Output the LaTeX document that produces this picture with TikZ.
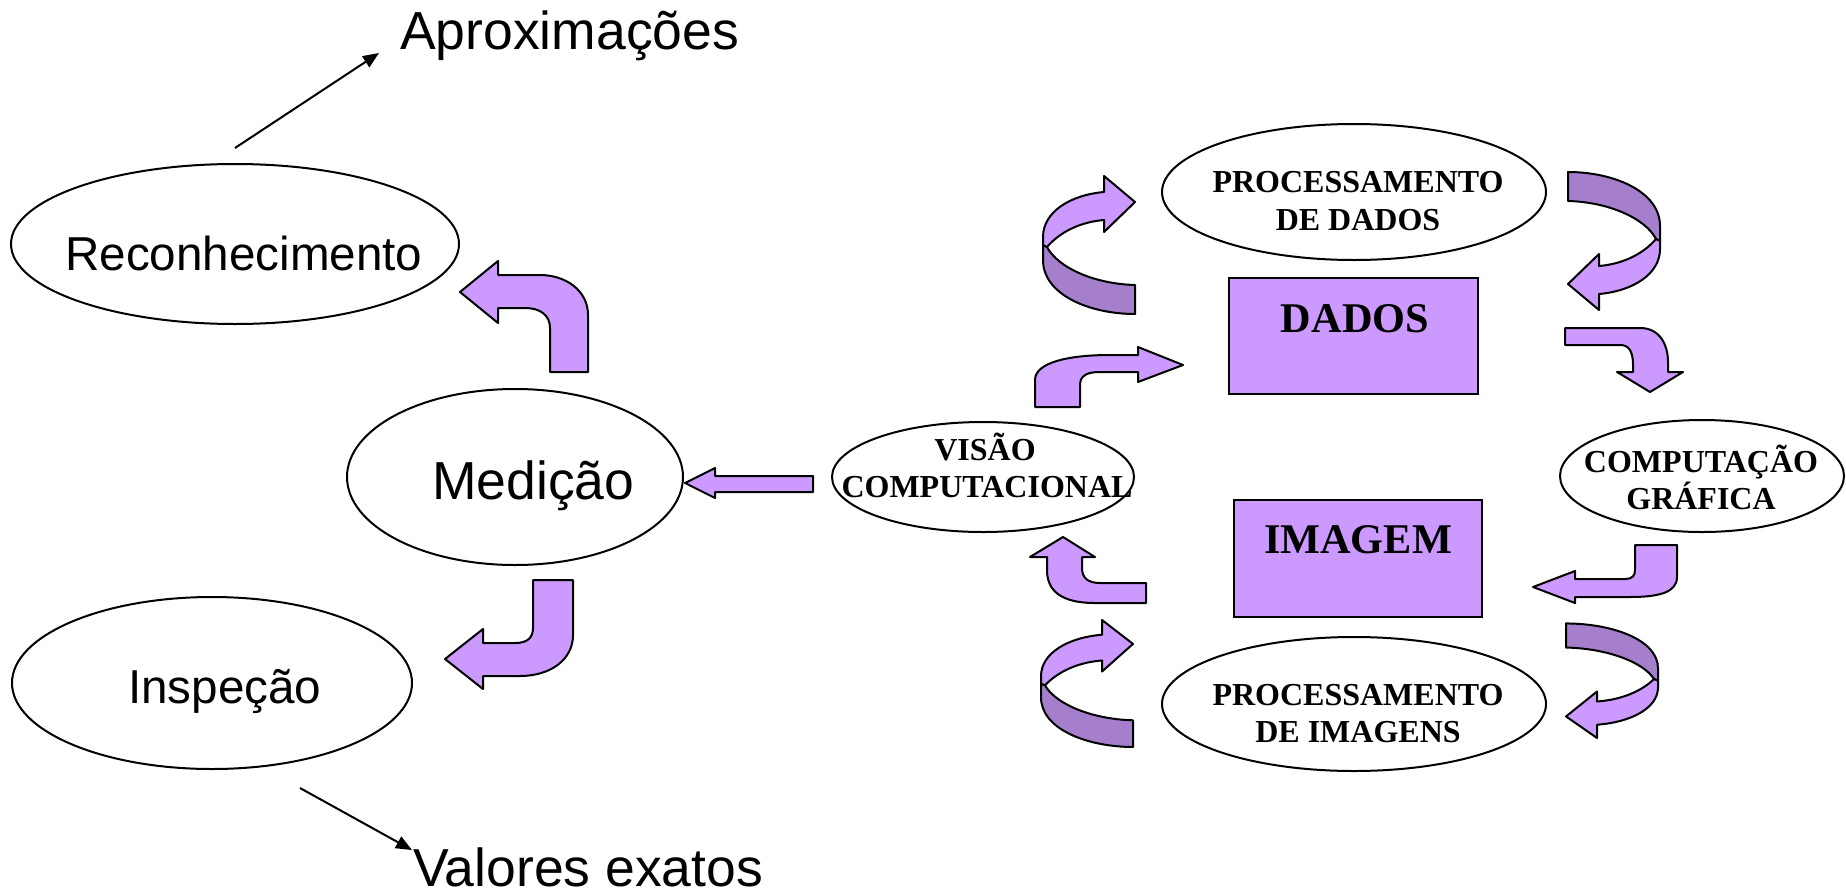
\documentclass[tikz,border=0pt]{standalone}
\usepackage{fontspec}
\setmainfont{Liberation Sans}
\newfontfamily\tnr{Liberation Serif}
\usetikzlibrary{shapes.geometric,arrows.meta}
\definecolor{lp}{RGB}{204,153,255}
\definecolor{dp}{RGB}{166,127,204}
\tikzset{
 fat/.style={draw=black, fill=lp, line width=2pt, line join=round},
 fatdark/.style={draw=black, fill=dp, line width=2pt, line join=round},
 ell/.style={draw, ellipse, line width=2pt, inner sep=0pt, fill=white},
 lbl/.style={font=\fontsize{53.5}{60}\selectfont, anchor=base west, inner sep=0pt},
 lbls/.style={font=\fontsize{47.6}{56}\selectfont, anchor=base west, inner sep=0pt},
 bl/.style={font=\tnr\bfseries\fontsize{32}{37}\selectfont, anchor=base, inner sep=0pt},
 bigl/.style={font=\tnr\bfseries\fontsize{42.3}{50}\selectfont, anchor=base, inner sep=0pt},
 boxn/.style={draw, fill=lp, line width=2pt, inner sep=0pt},
 thinarrow/.style={line width=2pt, -{Triangle[length=16pt,width=13pt]}},
}
\newcommand{\ribbonarrow}[1]{%
 \begin{scope}[#1]
 \draw[fatdark] (0,69) -- (0,84) .. controls (0,119) and (47,138) .. (92,138) -- (92,109) .. controls (52,108) and (15,92) .. (4,71) -- cycle;
 \draw[fat] (61,16) .. controls (27,19) and (0,36) .. (0,61) -- (0,69) -- (4,71) .. controls (17,56) and (37,46) .. (61,44) -- (61,56) -- (92,26) -- (61,0) -- cycle;
 \end{scope}}
\begin{document}
\begin{tikzpicture}[x=1pt,y=-1pt]
\useasboundingbox (0,0) rectangle (1846,889);
% left ellipses
\node[ell, minimum width=448pt, minimum height=160pt] (rec) at (235,244) {};
\node[ell, minimum width=336pt, minimum height=176pt] (med) at (515,477) {};
\node[ell, minimum width=400pt, minimum height=172pt] (insp) at (212,683) {};
\node[lbls] (trec) at (65,270) {Reconhecimento};
\node[lbl] (tmed) at (432,499) {Medição};
\node[lbls] (tinsp) at (128,703) {Inspeção};
\node[lbl] (tapx) at (400,49) {Aproximações};
\node[lbl] (tval) at (413,886) {Valores exatos};
% thin arrows
\coordinate (a1s) at (235,148);
\coordinate (a1e) at (379,53);
\coordinate (a2s) at (300,788);
\coordinate (a2e) at (412,850);
\draw[thinarrow] (a1s) -- (a1e);
\draw[thinarrow] (a2s) -- (a2e);
% fat bent arrows left
\draw[fat] (588,372) -- (588,315) .. controls (588,290) and (565,275) .. (540,275) -- (498,275) -- (498,261) -- (460,292) -- (498,323) -- (498,308) -- (525,308) .. controls (540,308) and (550,315) .. (550,328) -- (550,372) -- cycle;
\draw[fat] (533,580) -- (573,580) -- (573,635) .. controls (573,660) and (550,676) .. (520,676) -- (483,676) -- (483,689) -- (445,659) -- (483,629) -- (483,643) -- (515,643) .. controls (527,643) and (533,638) .. (533,628) -- cycle;
\draw[fat] (813,476) -- (715,476) -- (715,468) -- (685,483) -- (715,498) -- (715,492) -- (813,492) -- cycle;
% right ellipses
\node[ell, minimum width=302pt, minimum height=110pt] (vis) at (983,477) {};
\node[ell, minimum width=384pt, minimum height=136pt] (pd) at (1354,192) {};
\node[ell, minimum width=284pt, minimum height=112pt] (cg) at (1702,476) {};
\node[ell, minimum width=384pt, minimum height=134pt] (pim) at (1354,704) {};
% boxes
\node[boxn, minimum width=249pt, minimum height=116pt] (dados) at (1353.5,336) {};
\node[boxn, minimum width=248pt, minimum height=117pt] (imagem) at (1358,558.5) {};
\node[bigl] (tdados) at (1355,332) {DADOS};
\node[bigl] (timagem) at (1358,553) {IMAGEM};
% right texts
\node[bl] (pd1) at (1358,192) {PROCESSAMENTO};
\node[bl] (pd2) at (1358,230) {DE DADOS};
\node[bl] (vis1) at (985,460) {VISÃO};
\node[bl] (vis2) at (987,497) {COMPUTACIONAL};
\node[bl] (cg1) at (1701,472) {COMPUTAÇÃO};
\node[bl] (cg2) at (1701,509) {GRÁFICA};
\node[bl] (pi1) at (1358,705) {PROCESSAMENTO};
\node[bl] (pi2) at (1358,742) {DE IMAGENS};
% bent arrows right
\draw[fat] (1035,407) -- (1035,380) .. controls (1035,362) and (1070,355) .. (1110,355) -- (1138,355) -- (1138,347) -- (1183,365) -- (1138,382) -- (1138,372) -- (1100,372) .. controls (1088,372) and (1080,375) .. (1080,385) -- (1080,407) -- cycle;
\draw[fat] (1565,328) -- (1640,328) .. controls (1660,328) and (1668,345) .. (1668,362) -- (1668,372) -- (1683,372) -- (1650,392) -- (1617,372) -- (1633,372) -- (1633,365) .. controls (1633,350) and (1628,345) .. (1620,345) -- (1565,345) -- cycle;
\draw[fat] (1635,545) -- (1677,545) -- (1677,577) .. controls (1677,592) and (1660,597) .. (1630,597) -- (1575,597) -- (1575,603) -- (1533,587) -- (1575,571) -- (1575,579) -- (1625,579) .. controls (1632,579) and (1635,576) .. (1635,570) -- cycle;
\draw[fat] (1146,583) -- (1146,603) -- (1095,603) .. controls (1060,603) and (1047,590) .. (1047,570) -- (1047,557) -- (1030,557) -- (1063,537) -- (1095,557) -- (1082,557) -- (1082,568) .. controls (1082,578) and (1088,583) .. (1100,583) -- cycle;
% ribbon arrows
\ribbonarrow{shift={(1043,176)}}
\ribbonarrow{shift={(1660,310)}, xscale=-1, yscale=-1}
\ribbonarrow{shift={(1041,620)}, yscale=0.92}
\ribbonarrow{shift={(1658,738)}, xscale=-1, yscale=-0.83}
\end{tikzpicture}
\end{document}
